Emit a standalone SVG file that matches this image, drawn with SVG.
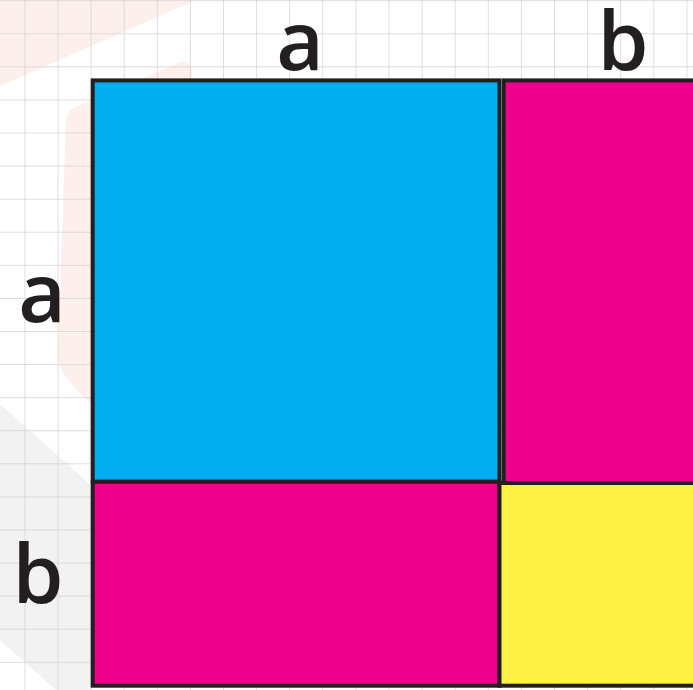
<svg xmlns="http://www.w3.org/2000/svg" width="693" height="690" viewBox="0 0 693 690">
<defs>
<pattern id="grid" x="24.4" y="0.2" width="33.1" height="33.08" patternUnits="userSpaceOnUse">
<path d="M0 0 V33.08 M0 0 H33.1" fill="none" stroke="#d2d2d2" stroke-width="1.4"/>
</pattern>
<style>
.lbl{font-family:"Open Sans","DejaVu Sans",sans-serif;font-size:82px;font-weight:600;fill:#231f20;text-anchor:middle}
.box{stroke:#231f20;stroke-width:4}
.wm-pink{fill:#fdefeb}
.wm-gray{fill:#f2f2f2}
</style>
</defs>
<rect width="693" height="690" fill="#ffffff"/>
<g id="watermark">
<path class="wm-pink" d="M0 0 H196 L0 86 Z"/>
<path class="wm-pink" d="M74 108 L178 63 Q191 58 192 72 L200 470 L122 424 Q56 384 58 352 L66 122 Q66 111 74 108 Z"/>
<path class="wm-gray" d="M0 404 L92 486 V690 H56 L0 640 Z"/>
</g>
<rect width="693" height="690" fill="url(#grid)"/>
<g id="labels">
<text class="lbl" x="300" y="70">a</text>
<text class="lbl" x="623" y="70">b</text>
<text class="lbl" x="42" y="322">a</text>
<text class="lbl" x="38" y="603">b</text>
</g>
<g id="blue-square">
<rect class="box" x="92.7" y="80.4" width="406.8" height="401.4" fill="#00adee"/>
</g>
<g id="magenta-top-right">
<rect class="box" x="503.7" y="80.4" width="200" height="402.6" fill="#ec008c"/>
</g>
<g id="magenta-bottom-left">
<rect class="box" x="92.7" y="481.8" width="406.8" height="203.9" fill="#ec008c"/>
</g>
<g id="yellow-square">
<rect class="box" x="499.5" y="483" width="200" height="202.7" fill="#fff141"/>
</g>
<g id="connectors"></g>
</svg>
